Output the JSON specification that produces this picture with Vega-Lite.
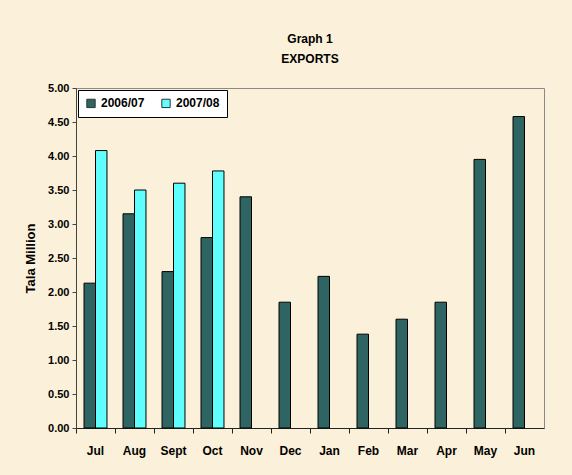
{
  "$schema": "https://vega.github.io/schema/vega-lite/v6.json",
  "width": 468,
  "height": 340,
  "autosize": {"type": "none"},
  "padding": {"left": 76, "top": 88, "right": 28, "bottom": 47},
  "background": "#FBF0D9",
  "config": {
    "font": "Liberation Sans",
    "view": {"stroke": "#8a8a8a", "strokeWidth": 1}
  },
  "title": {
    "text": ["Graph 1", "EXPORTS"],
    "fontSize": 12,
    "fontWeight": "bold",
    "font": "Liberation Sans",
    "lineHeight": 20,
    "anchor": "middle",
    "frame": "group",
    "offset": 16,
    "color": "#000000"
  },
  "data": {
    "values": [
      {"month": "Jul", "year": "2006/07", "value": 2.13},
      {"month": "Jul", "year": "2007/08", "value": 4.08},
      {"month": "Aug", "year": "2006/07", "value": 3.15},
      {"month": "Aug", "year": "2007/08", "value": 3.50},
      {"month": "Sept", "year": "2006/07", "value": 2.30},
      {"month": "Sept", "year": "2007/08", "value": 3.60},
      {"month": "Oct", "year": "2006/07", "value": 2.80},
      {"month": "Oct", "year": "2007/08", "value": 3.78},
      {"month": "Nov", "year": "2006/07", "value": 3.40},
      {"month": "Dec", "year": "2006/07", "value": 1.85},
      {"month": "Jan", "year": "2006/07", "value": 2.23},
      {"month": "Feb", "year": "2006/07", "value": 1.38},
      {"month": "Mar", "year": "2006/07", "value": 1.60},
      {"month": "Apr", "year": "2006/07", "value": 1.85},
      {"month": "May", "year": "2006/07", "value": 3.95},
      {"month": "Jun", "year": "2006/07", "value": 4.58}
    ]
  },
  "mark": {"type": "bar", "stroke": "#000000", "strokeWidth": 1},
  "encoding": {
    "x": {
      "field": "month",
      "type": "nominal",
      "sort": ["Jul", "Aug", "Sept", "Oct", "Nov", "Dec", "Jan", "Feb", "Mar", "Apr", "May", "Jun"],
      "scale": {"paddingInner": 0, "paddingOuter": 0},
      "axis": {
        "title": null,
        "labelAngle": 0,
        "labelFontSize": 12,
        "labelFontWeight": "bold",
        "labelColor": "#000000",
        "labelPadding": 12,
        "bandPosition": 0,
        "tickSize": 5,
        "tickColor": "#222222",
        "domainColor": "#222222",
        "labelFont": "Liberation Sans"
      }
    },
    "xOffset": {
      "field": "year",
      "type": "nominal",
      "scale": {"domain": ["2006/07", "2007/08"], "paddingInner": 0, "paddingOuter": 0.7}
    },
    "y": {
      "field": "value",
      "type": "quantitative",
      "scale": {"domain": [0, 5], "nice": false},
      "axis": {
        "title": "Tala Million",
        "titleFontSize": 13,
        "titleFontWeight": "bold",
        "titleColor": "#000000",
        "titlePadding": 10,
        "titleFont": "Liberation Sans",
        "values": [0, 0.5, 1, 1.5, 2, 2.5, 3, 3.5, 4, 4.5, 5],
        "format": ".2f",
        "grid": false,
        "labelFontSize": 11,
        "labelFontWeight": "bold",
        "labelColor": "#000000",
        "labelFont": "Liberation Sans",
        "labelPadding": 3,
        "tickSize": 4,
        "tickColor": "#444444",
        "domainColor": "#444444"
      }
    },
    "fill": {
      "field": "year",
      "type": "nominal",
      "scale": {"domain": ["2006/07", "2007/08"], "range": ["#2E6461", "#5FFFFF"]},
      "legend": {
        "title": null,
        "orient": "none",
        "legendX": 2,
        "legendY": 2,
        "direction": "horizontal",
        "fillColor": "#FFFFFF",
        "strokeColor": "#000000",
        "padding": 7,
        "symbolType": "square",
        "symbolSize": 70,
        "symbolStrokeColor": "#333333",
        "symbolStrokeWidth": 1,
        "labelFontSize": 12,
        "labelFontWeight": "bold",
        "labelFont": "Liberation Sans",
        "labelColor": "#000000",
        "columnPadding": 14
      }
    }
  }
}
